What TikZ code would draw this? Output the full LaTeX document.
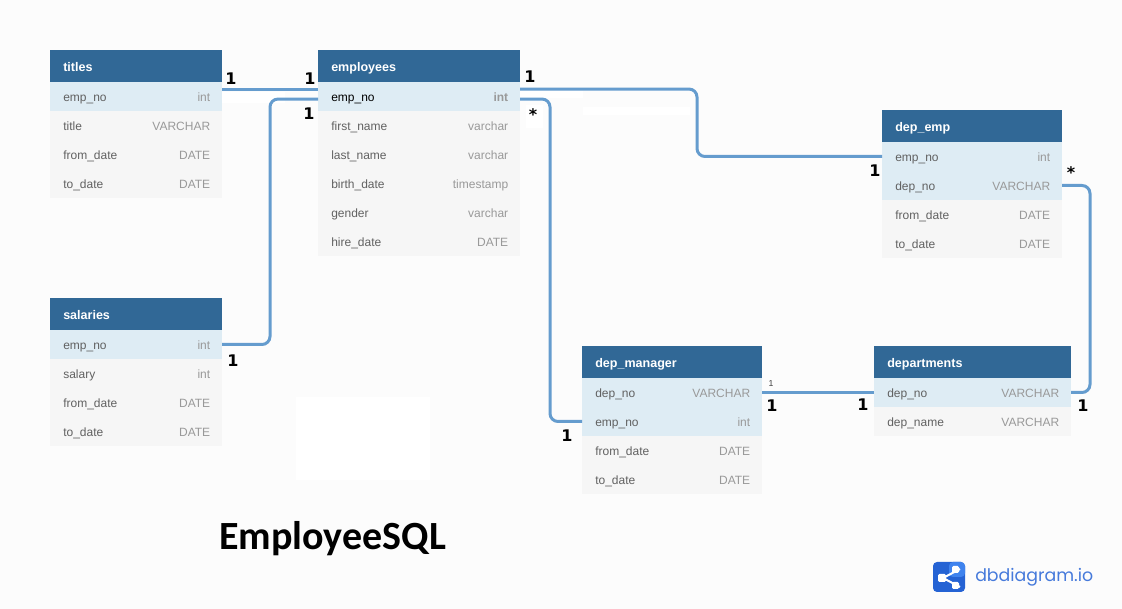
\documentclass[tikz,border=0pt]{standalone}
\usepackage{fontspec}
\setmainfont{Liberation Sans}
\newfontfamily\titlefont{Carlito}
\newfontfamily\cardfont{DejaVu Sans}
\newfontfamily\logofont{Poppins}
\usetikzlibrary{calc}
\definecolor{headblue}{HTML}{316896}
\definecolor{keyblue}{HTML}{DEECF4}
\definecolor{rowgray}{HTML}{F6F6F6}
\definecolor{pagegray}{HTML}{FCFCFC}
\definecolor{linkblue}{HTML}{659CCE}
\definecolor{logoblue}{HTML}{2563D4}
\definecolor{logolight}{HTML}{3F83EE}
\tikzset{
    tblbox/.style={anchor=north west, inner sep=0pt, outer sep=0pt, minimum height=21.75pt},
    tblhead/.style={tblbox, fill=headblue, minimum height=24pt},
    tblrow/.style={tblbox, fill=rowgray},
    tblkey/.style={tblbox, fill=keyblue},
    headtext/.style={anchor=base west, inner sep=0pt, text=white, font=\bfseries\fontsize{9.4}{11}\selectfont},
    fieldtext/.style={anchor=base west, inner sep=0pt, text=black!62, font=\fontsize{9}{11}\selectfont},
    typetext/.style={anchor=base east, inner sep=0pt, text=black!40, font=\fontsize{9}{11}\selectfont},
    link/.style={draw=linkblue, line width=2.25pt, rounded corners=6pt},
    card/.style={inner sep=0pt, font=\cardfont\bfseries\fontsize{12}{14}\selectfont},
    patch/.style={fill=white, draw=none}
}
% шапка: имя, x, y, ширина, текст
\newcommand{\tblheader}[5]{
    \node [tblhead, minimum width=#4*0.75pt] (#1) at ( #2, #3 ) {};
    \node [headtext] (#1text) at ($(#1.west) + (13,5.2)$) {#5};
}
% строка: имя, стиль, x, y, ширина, поле, тип
\newcommand{\tblline}[7]{
    \node [#2, minimum width=#5*0.75pt] (#1) at ( #3, #4 ) {};
    \node [fieldtext] (#1field) at ($(#1.west) + (13,5.2)$) {#6};
    \node [typetext] (#1type) at ($(#1.east) + (-11.5,5.2)$) {#7};
}
\begin{document}
\begin{tikzpicture}[x=0.75pt, y=-0.75pt]
    % фон
    \useasboundingbox ( 0, 0 ) rectangle ( 1122, 609 );
    \fill [pagegray] ( 0, 0 ) rectangle ( 1122, 609 );

    % белые пятна
    \fill [patch] ( 296, 397 ) rectangle ( 430, 480 );
    \fill [patch] ( 222, 92 ) rectangle ( 285, 103 );
    \fill [patch] ( 520, 91 ) rectangle ( 583, 98 );
    \fill [patch] ( 583, 107 ) rectangle ( 690, 115 );
    \fill [patch] ( 526, 105 ) rectangle ( 543, 128 );

    % titles
    \tblheader{titles}{50}{50}{172}{titles}
    \tblline{titlesempno}{tblkey}{50}{82}{172}{emp\_no}{int}
    \tblline{titlestitle}{tblrow}{50}{111}{172}{title}{VARCHAR}
    \tblline{titlesfrom}{tblrow}{50}{140}{172}{from\_date}{DATE}
    \tblline{titlesto}{tblrow}{50}{169}{172}{to\_date}{DATE}

    % salaries
    \tblheader{salaries}{50}{298}{172}{salaries}
    \tblline{salempno}{tblkey}{50}{330}{172}{emp\_no}{int}
    \tblline{salsalary}{tblrow}{50}{359}{172}{salary}{int}
    \tblline{salfrom}{tblrow}{50}{388}{172}{from\_date}{DATE}
    \tblline{salto}{tblrow}{50}{417}{172}{to\_date}{DATE}

    % employees
    \tblheader{employees}{318}{50}{202}{employees}
    \tblline{empempno}{tblkey}{318}{82}{202}{\textcolor{black}{emp\_no}}{\textbf{int}}
    \tblline{empfirst}{tblrow}{318}{111}{202}{first\_name}{varchar}
    \tblline{emplast}{tblrow}{318}{140}{202}{last\_name}{varchar}
    \tblline{empbirth}{tblrow}{318}{169}{202}{birth\_date}{timestamp}
    \tblline{empgender}{tblrow}{318}{198}{202}{gender}{varchar}
    \tblline{emphire}{tblrow}{318}{227}{202}{hire\_date}{DATE}

    % dep_emp
    \tblheader{depemp}{882}{110}{180}{dep\_emp}
    \tblline{deempno}{tblkey}{882}{142}{180}{emp\_no}{int}
    \tblline{dedepno}{tblkey}{882}{171}{180}{dep\_no}{VARCHAR}
    \tblline{defrom}{tblrow}{882}{200}{180}{from\_date}{DATE}
    \tblline{deto}{tblrow}{882}{229}{180}{to\_date}{DATE}

    % dep_manager
    \tblheader{depmanager}{582}{346}{180}{dep\_manager}
    \tblline{dmdepno}{tblkey}{582}{378}{180}{dep\_no}{VARCHAR}
    \tblline{dmempno}{tblkey}{582}{407}{180}{emp\_no}{int}
    \tblline{dmfrom}{tblrow}{582}{436}{180}{from\_date}{DATE}
    \tblline{dmto}{tblrow}{582}{465}{180}{to\_date}{DATE}

    % departments
    \tblheader{departments}{874}{346}{197}{departments}
    \tblline{dptdepno}{tblkey}{874}{378}{197}{dep\_no}{VARCHAR}
    \tblline{dptname}{tblrow}{874}{407}{197}{dep\_name}{VARCHAR}

    % связи
    \draw [link] ([yshift=4.9pt]titlesempno.east) -- ([yshift=4.9pt]empempno.west);
    \draw [link] (salempno.east) -- ++( 48, 0 ) |- ([yshift=-1.9pt]empempno.west);
    \draw [link] ([yshift=5.6pt]empempno.east) -- ++( 177, 0 ) |- (deempno.west);
    \draw [link] ([yshift=-1.9pt]empempno.east) -- ++( 30, 0 ) |- (dmempno.west);
    \draw [link] (dedepno.east) -- ++( 28, 0 ) |- (dptdepno.east);
    \draw [link] (dmdepno.east) -- (dptdepno.west);

    % метки
    \node [card] (c1) at ( 231, 79 ) {1};
    \node [card] (c2) at ( 310, 79 ) {1};
    \node [card] (c3) at ( 309, 114 ) {1};
    \node [card] (c4) at ( 530, 77 ) {1};
    \node [card] (c5) at ( 533, 115 ) {*};
    \node [card] (c6) at ( 875, 171 ) {1};
    \node [card] (c7) at ( 1071, 173 ) {*};
    \node [card] (c8) at ( 233, 361 ) {1};
    \node [card] (c9) at ( 567, 436 ) {1};
    \node [inner sep=0pt, text=black!75, font=\fontsize{6.5}{8}\selectfont] (c10) at ( 771, 384 ) {1};
    \node [card] (c11) at ( 772, 406 ) {1};
    \node [card] (c12) at ( 863, 405 ) {1};
    \node [card] (c13) at ( 1083, 406 ) {1};

    % заголовок
    \node [inner sep=0pt, anchor=west, font=\titlefont\bfseries\fontsize{30}{33}\selectfont] (caption) at ( 219, 539 ) {EmployeeSQL};

    % логотип
    \fill [logoblue, rounded corners=3pt] ( 933, 562 ) rectangle ( 965, 592 );
    \fill [logolight, rounded corners=3pt] ( 949, 562 ) rectangle ( 965, 577 );
    \draw [white, line width=1.5pt] ( 960, 569 ) -- ( 943, 578 ) -- ( 960, 587 );
    \fill [white, rounded corners=1pt] ( 938, 574 ) rectangle ( 946, 582 );
    \fill [white, rounded corners=1pt] ( 952, 566 ) rectangle ( 959, 573 );
    \fill [white, rounded corners=1pt] ( 952, 582 ) rectangle ( 959, 589 );
    \node [inner sep=0pt, anchor=west, text=logoblue!85!white, font=\logofont\fontsize{13}{15}\selectfont] (logotext) at ( 975, 577 ) {dbdiagram.io};
\end{tikzpicture}
\end{document}
